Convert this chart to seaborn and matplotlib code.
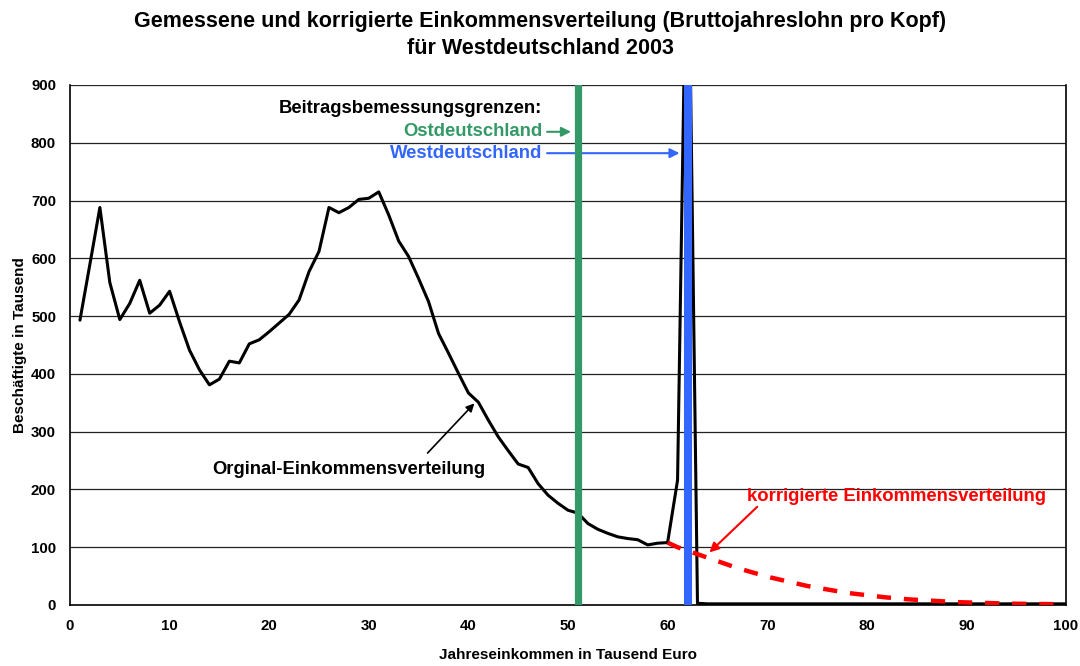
import numpy as np
import pandas as pd
import matplotlib
matplotlib.use("Agg")
import matplotlib.pyplot as plt
import seaborn as sns

# income in thousand euro, employees in thousand
einkommen = list(range(1, 101))
beschaeftigte = [
    493, 590, 688, 558, 494, 522, 562, 505, 519, 543,
    490, 441, 407, 381, 391, 422, 419, 452, 459, 473,
    488, 503, 528, 577, 612, 688, 679, 688, 702, 704,
    715, 675, 630, 603, 565, 525, 470, 436, 401, 367,
    351, 320, 291, 267, 244, 238, 210, 190, 176, 164,
    159, 141, 131, 124, 118, 115, 113, 104, 107, 108,
    216, 1300, 3, 2, 2, 2, 2, 2, 2, 2,
    2, 2, 2, 2, 2, 2, 2, 2, 2, 2,
    2, 2, 2, 2, 2, 2, 2, 2, 2, 2,
    2, 2, 2, 2, 2, 2, 2, 2, 2, 2,
]

korr_einkommen = list(range(60, 101))
korr_beschaeftigte = [
    108, 100, 94, 88, 82, 76, 70, 64, 59, 54,
    49, 45, 41, 37, 33, 30, 27, 24, 21, 19,
    17, 15, 13, 12, 10, 9, 8, 7, 6, 5,
    4.5, 4, 3.5, 3, 2.5, 2.2, 2, 1.8, 1.6, 1.4, 1.2,
]

grenze_ost = 51
grenze_west = 62

gruen = "#339966"
blau = "#3366FF"
rot = "#FF0000"

df = pd.DataFrame({"x": einkommen, "y": beschaeftigte})
df_korr = pd.DataFrame({"x": korr_einkommen, "y": korr_beschaeftigte})

sns.set_style("white")
plt.rcParams["font.family"] = ["Liberation Sans", "DejaVu Sans"]
plt.rcParams["font.weight"] = "bold"
plt.rcParams["text.color"] = "black"
plt.rcParams["axes.labelcolor"] = "black"
plt.rcParams["xtick.color"] = "black"
plt.rcParams["ytick.color"] = "black"

fig = plt.figure(figsize=(10.8, 6.66), dpi=100)
ax = fig.add_axes([70 / 1080, 1 - 605 / 666, 996 / 1080, 520 / 666])

for yv in range(100, 1000, 100):
    ax.axhline(yv, color="#222222", lw=0.9, zorder=0)

sns.lineplot(data=df, x="x", y="y", ax=ax, color="black", lw=2.2, zorder=2)
sns.lineplot(data=df_korr, x="x", y="y", ax=ax, color=rot, lw=3.2, zorder=3)
ax.lines[-1].set_dashes((3.2, 2.9))

ax.axvline(grenze_ost, color=gruen, lw=5.2, zorder=4)
ax.axvline(grenze_west, color=blau, lw=5.8, zorder=4)

ax.set_xlim(0, 100)
ax.set_ylim(0, 900)
ax.set_xticks(range(0, 101, 10))
ax.set_yticks(range(0, 901, 100))
ax.tick_params(axis="both", direction="out", length=4, width=1, color="#333333",
               labelsize=10.8, pad=6)
for lab in ax.get_xticklabels() + ax.get_yticklabels():
    lab.set_fontweight("bold")

for side in ["left", "bottom", "right"]:
    ax.spines[side].set_color("black")
    ax.spines[side].set_linewidth(1.2)
ax.spines["top"].set_visible(False)

ax.set_xlabel("Jahreseinkommen in Tausend Euro", fontsize=11, fontweight="bold",
              labelpad=11)
ax.set_ylabel("Beschäftigte in Tausend", fontsize=11, fontweight="bold",
              labelpad=3)

fig.text(0.5, 1 - 22 / 666, "Gemessene und korrigierte Einkommensverteilung (Bruttojahreslohn pro Kopf)",
         ha="center", va="center", fontsize=15.5, fontweight="bold")
fig.text(0.5, 1 - 48 / 666, "für Westdeutschland 2003",
         ha="center", va="center", fontsize=15.5, fontweight="bold")

ax.text(47.4, 860, "Beitragsbemessungsgrenzen:", ha="right", va="center",
        fontsize=13.3, fontweight="bold", color="black")
ax.text(47.4, 819, "Ostdeutschland", ha="right", va="center",
        fontsize=13.3, fontweight="bold", color=gruen)
ax.text(47.4, 782, "Westdeutschland", ha="right", va="center",
        fontsize=13.3, fontweight="bold", color=blau)
ax.annotate("", xy=(50.3, 819), xytext=(47.9, 819),
            arrowprops=dict(arrowstyle="-|>", color=gruen, lw=1.5,
                            mutation_scale=14, shrinkA=0, shrinkB=0))
ax.annotate("", xy=(61.2, 782), xytext=(47.9, 782),
            arrowprops=dict(arrowstyle="-|>", color=blau, lw=1.5,
                            mutation_scale=14, shrinkA=0, shrinkB=0))

ax.text(28.0, 234, "Orginal-Einkommensverteilung", ha="center", va="center",
        fontsize=13.3, fontweight="bold", color="black")
ax.annotate("", xy=(40.6, 349), xytext=(35.9, 263),
            arrowprops=dict(arrowstyle="-|>", color="black", lw=1.2,
                            mutation_scale=12, shrinkA=0, shrinkB=0))

ax.text(83.0, 187, "korrigierte Einkommensverteilung", ha="center", va="center",
        fontsize=13.3, fontweight="bold", color=rot)
ax.annotate("", xy=(64.2, 91), xytext=(69.0, 170),
            arrowprops=dict(arrowstyle="-|>", color=rot, lw=1.5,
                            mutation_scale=14, shrinkA=0, shrinkB=0))

plt.savefig("out.png", dpi=100)
plt.close()
